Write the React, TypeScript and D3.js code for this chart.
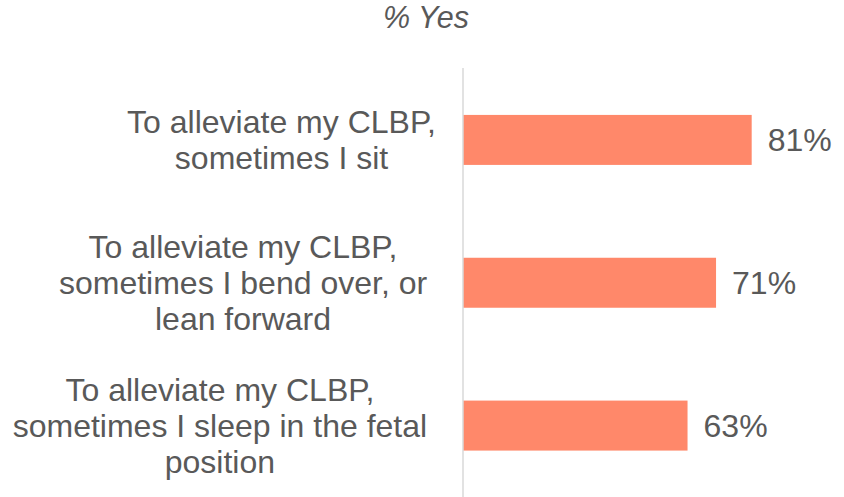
import React, { useEffect, useRef } from "react";
import * as d3 from "d3";

const categories: string[][] = [
  ["To alleviate my CLBP,", "sometimes I sit"],
  ["To alleviate my CLBP, ", "sometimes I bend over, or ", "lean forward "],
  ["To alleviate my CLBP, ", "sometimes I sleep in the fetal ", "position "],
];
const values: number[] = [81, 71, 63];
const title = "% Yes";

const W = 844;
const H = 497;
const FONT = "'Liberation Sans', Arial, Helvetica, sans-serif";
const TEXT = "#595959";
const BAR = "#ff886a";

export default function App() {
  const ref = useRef<SVGSVGElement>(null);

  useEffect(() => {
    const svg = d3.select(ref.current);
    svg.selectAll("*").remove();

    const x = d3.scaleLinear().domain([0, 100]).range([463, 819.4]);
    const y = d3
      .scaleBand<number>()
      .domain(values.map((_, i) => i))
      .range([68.5, H])
      .paddingInner(0.65)
      .paddingOuter(0.325);

    svg
      .append("text")
      .attr("x", 426)
      .attr("y", 28)
      .attr("text-anchor", "middle")
      .attr("font-family", FONT)
      .attr("font-style", "italic")
      .attr("font-size", 30.5)
      .attr("fill", TEXT)
      .text(title);

    svg
      .selectAll("rect.bar")
      .data(values)
      .join("rect")
      .attr("class", "bar")
      .attr("x", x(0))
      .attr("y", (_, i) => y(i)!)
      .attr("width", (d) => x(d) - x(0))
      .attr("height", y.bandwidth())
      .attr("fill", BAR);

    svg
      .append("line")
      .attr("x1", x(0))
      .attr("x2", x(0))
      .attr("y1", 68)
      .attr("y2", H)
      .attr("stroke", "#d9d9d9")
      .attr("stroke-width", 1.5);

    svg
      .selectAll("text.val")
      .data(values)
      .join("text")
      .attr("class", "val")
      .attr("x", (d) => x(d) + 16)
      .attr("y", (_, i) => y(i)! + y.bandwidth() / 2)
      .attr("dy", "0.36em")
      .attr("font-family", FONT)
      .attr("font-size", 32)
      .attr("fill", TEXT)
      .text((d) => `${d}%`);

    const lh = 36;
    const right = 436;
    categories.forEach((lines, i) => {
      const cy = y(i)! + y.bandwidth() / 2;
      const g = svg.append("g");
      const t = g
        .append("text")
        .attr("font-family", FONT)
        .attr("font-size", 32)
        .attr("fill", TEXT)
        .attr("text-anchor", "middle")
        .style("white-space", "pre");
      const spans = lines.map((ln, j) =>
        t
          .append("tspan")
          .attr("x", 0)
          .attr("y", cy + (j - (lines.length - 1) / 2) * lh)
          .attr("dy", "0.35em")
          .text(ln)
      );
      const maxW = d3.max(spans, (s) => (s.node() as SVGTSpanElement).getComputedTextLength()) || 0;
      spans.forEach((s) => s.attr("x", right - maxW / 2));
    });
  }, []);

  return (
    <svg
      ref={ref}
      width={W}
      height={H}
      style={{ position: "absolute", left: 0, top: 0, background: "#fff" }}
    />
  );
}
